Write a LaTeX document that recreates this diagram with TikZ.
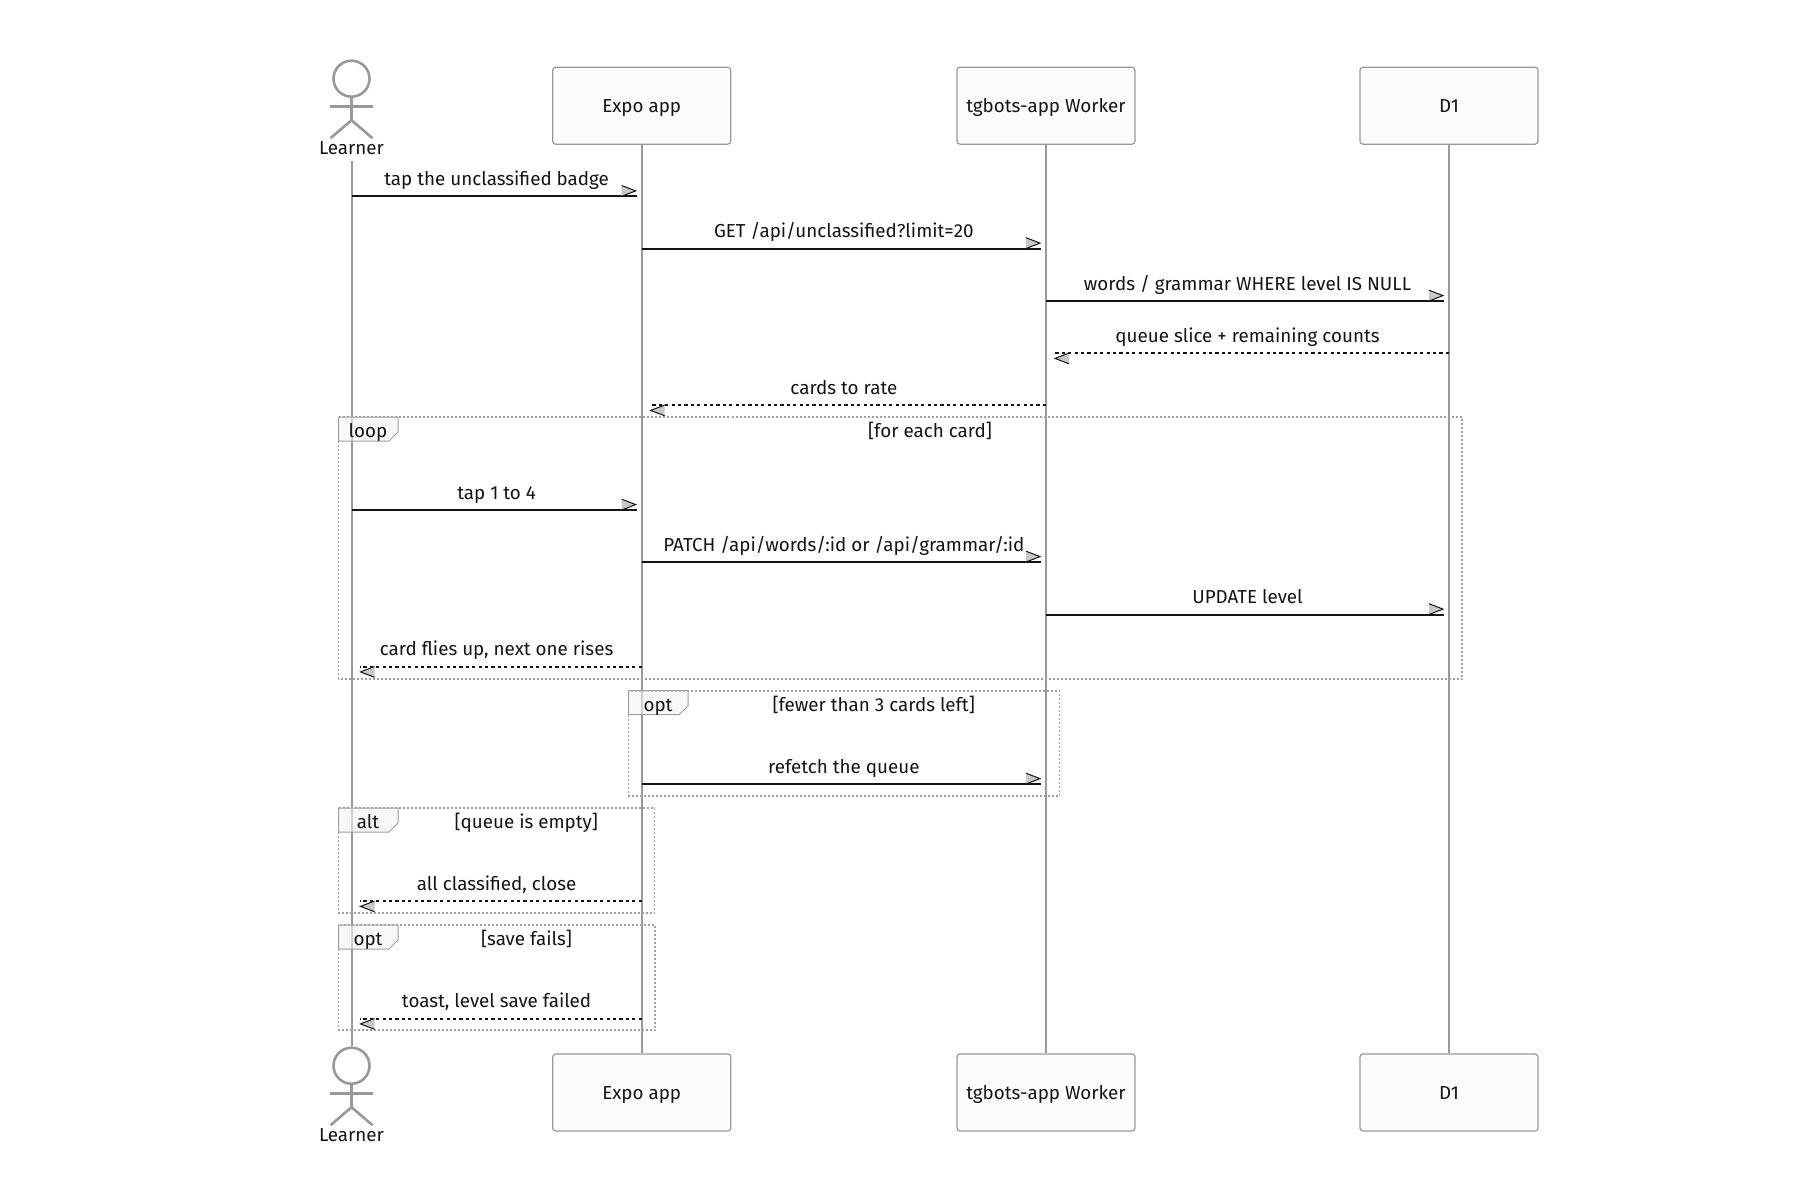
\documentclass[tikz,border=0pt]{standalone}
\usepackage{fontspec}
\setmainfont{Fira Sans}
\definecolor{lifegray}{HTML}{999999}
\definecolor{framegray}{HTML}{A0A0A0}
\definecolor{boxfill}{HTML}{FCFCFC}
\definecolor{tabfill}{HTML}{F4F4F4}
\definecolor{headfill}{HTML}{C8C8C8}
\definecolor{ink}{HTML}{141414}

\tikzset{
  stickman/.pic={
    \node[draw=lifegray, line width=1.3pt, circle, minimum size=18pt, inner sep=0pt] (-head) at (0,0) {};
    \draw[stick] (-21.5,28) -- (21.5,28);
    \draw[stick] (-head.south) -- (0,41.5);
    \draw[stick] (-21,59.5) -- (0,41.5) -- (21,59.5);
    \node[anchor=base, text=ink] (-label) at (0,75.5) {Learner};
  },
  mhead/.pic={
    \fill[headfill] (#1-7pt,0pt) -- (#1,2.7pt) -- (#1-7pt,5.4pt) -- cycle;
    \draw[ink, solid, line width=0.5pt, shorten >=0pt] (#1-7pt,0pt) -- (#1,2.7pt) -- (#1-7pt,5.4pt);
  },
}

\begin{document}
\begin{tikzpicture}[x=0.5pt, y=-0.5pt, font=\fontsize{9.4pt}{11pt}\selectfont,
    actorbox/.style={draw=lifegray, fill=boxfill, rounded corners=1.5pt, line width=0.6pt,
      minimum width=89pt, minimum height=38.5pt, inner sep=0pt, text=ink,
      text height=7pt, text depth=0pt},
    lifeline/.style={draw=lifegray, line width=1pt},
    stick/.style={draw=lifegray, line width=1.3pt},
    call/.style={draw=ink, line width=1pt, shorten >=2.5pt},
    reply/.style={call, dash pattern=on 1.6pt off 1.6pt, shorten >=4pt},
    msglabel/.style={midway, anchor=base, yshift=5.5pt, inner sep=0pt, text=ink},
    headpos/.style={pos=1, sloped, allow upside down},
    frame/.style={draw=framegray, line width=0.8pt, dash pattern=on 1pt off 1pt},
    tab/.style={draw=framegray, fill=tabfill, fill opacity=0.6, line width=0.5pt}]

  \path[use as bounding box, fill=white] (0,0) rectangle (1800,1200);

  % participants
  \pic (learnerT) at (351.5,78.7) {stickman};
  \pic (learnerB) at (351.5,1065.7) {stickman};
  \node[actorbox] (expoT) at (641.7,105.7) {Expo app};
  \node[actorbox] (workerT) at (1046,105.7) {tgbots-app Worker};
  \node[actorbox] (dbT) at (1449,105.7) {D1};
  \node[actorbox] (expoB) at (641.7,1092.5) {Expo app};
  \node[actorbox] (workerB) at (1046,1092.5) {tgbots-app Worker};
  \node[actorbox] (dbB) at (1449,1092.5) {D1};

  \draw[lifeline] (learnerT-label.south) -- (learnerB-head.north);
  \draw[lifeline] (expoT) -- (expoB);
  \draw[lifeline] (workerT) -- (workerB);
  \draw[lifeline] (dbT) -- (dbB);

  % combined fragments
  \foreach \nm/\xa/\ya/\xb/\yb/\kind/\cond in {
      loop/338.5/417/1462/679/loop/{[for each card]},
      optA/628.5/690.7/1059.5/795.7/opt/{[fewer than 3 cards left]},
      alt/338.5/808/654.5/913/alt/{[queue is empty]},
      optB/338.5/925/655/1030/opt/{[save fails]}} {
    \draw[frame] (\xa,\ya) rectangle (\xb,\yb);
    \draw[tab] (\xa,\ya) -- ++(59.5,0) -- ++(0,15) -- ++(-9,9) -- ++(-50.5,0) -- cycle;
    \node[anchor=base, text=ink] (\nm-tag) at (\xa+29.5,\ya+20.5) {\kind};
    \node[anchor=base, text=ink] (\nm-cond) at ({(\xa+59.5+\xb)/2},\ya+20.5) {\cond};
  }

  % message rows
  \coordinate (m1) at (0,196.3);
  \coordinate (m2) at (0,248.5);
  \coordinate (m3) at (0,301);
  \coordinate (m4) at (0,353);
  \coordinate (m5) at (0,405);
  \coordinate (m6) at (0,510);
  \coordinate (m7) at (0,562);
  \coordinate (m8) at (0,614.5);
  \coordinate (m9) at (0,666.5);
  \coordinate (m10) at (0,784);
  \coordinate (m11) at (0,901);
  \coordinate (m12) at (0,1018.5);

  \draw[call] (learnerT-head |- m1) -- (expoT |- m1) node[msglabel] {tap the unclassified badge} pic[headpos] {mhead=-3pt};
  \draw[call] (expoT |- m2) -- (workerT |- m2) node[msglabel] {GET /api/unclassified?limit=20} pic[headpos] {mhead=-3pt};
  \draw[call] (workerT |- m3) -- (dbT |- m3) node[msglabel] {words / grammar WHERE level IS NULL} pic[headpos] {mhead=-3pt};
  \draw[reply] (dbT |- m4) -- (workerT |- m4) node[msglabel] {queue slice + remaining counts} pic[headpos] {mhead=-4.5pt};
  \draw[reply] (workerT |- m5) -- (expoT |- m5) node[msglabel] {cards to rate} pic[headpos] {mhead=-4.5pt};
  \draw[call] (learnerT-head |- m6) -- (expoT |- m6) node[msglabel] {tap 1 to 4} pic[headpos] {mhead=-3pt};
  \draw[call] (expoT |- m7) -- (workerT |- m7) node[msglabel] {PATCH /api/words/:id or /api/grammar/:id} pic[headpos] {mhead=-3pt};
  \draw[call] (workerT |- m8) -- (dbT |- m8) node[msglabel] {UPDATE level} pic[headpos] {mhead=-3pt};
  \draw[reply] (expoT |- m9) -- (learnerT-head |- m9) node[msglabel] {card flies up, next one rises} pic[headpos] {mhead=-4.5pt};
  \draw[call] (expoT |- m10) -- (workerT |- m10) node[msglabel] {refetch the queue} pic[headpos] {mhead=-3pt};
  \draw[reply] (expoT |- m11) -- (learnerT-head |- m11) node[msglabel] {all classified, close} pic[headpos] {mhead=-4.5pt};
  \draw[reply] (expoT |- m12) -- (learnerT-head |- m12) node[msglabel] {toast, level save failed} pic[headpos] {mhead=-4.5pt};
\end{tikzpicture}
\end{document}
